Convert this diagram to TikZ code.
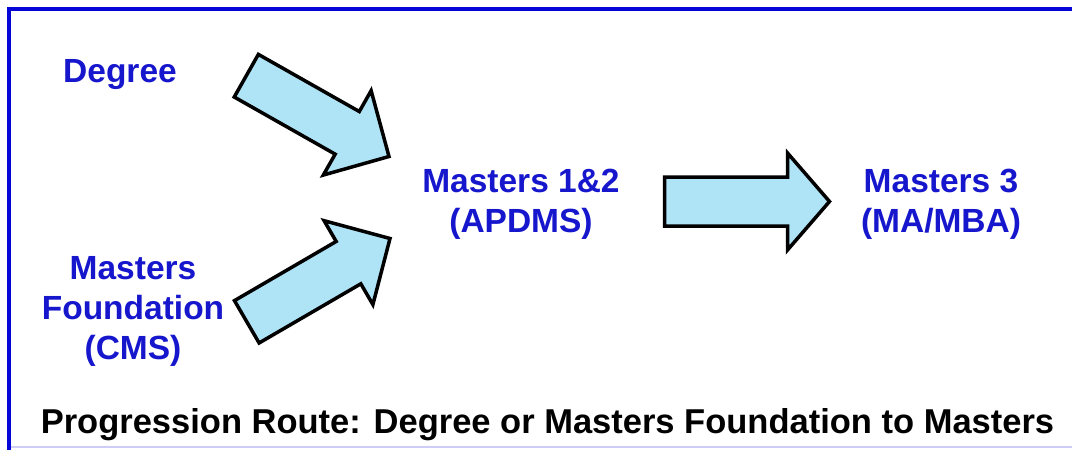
\documentclass[tikz,border=0pt]{standalone}
\usepackage{fontspec}
\setmainfont{Liberation Sans}
\usepackage{xcolor}
\usetikzlibrary{calc}

\definecolor{labelblue}{RGB}{22,22,205}
\definecolor{arrowfill}{RGB}{175,228,247}
\definecolor{framelav}{RGB}{205,205,245}
\definecolor{frameblue}{RGB}{5,5,215}

% block arrow: tail, tip, head length
\newcommand{\fatarrow}[3]{%
  \coordinate (hb) at ($(#2)!#3!(#1)$);
  \draw[fat] ($(#1)!24.5pt!90:(#2)$) -- ($(hb)!24.5pt!90:(#2)$)
    -- ($(hb)!48.5pt!90:(#2)$) -- (#2)
    -- ($(hb)!48.5pt!-90:(#2)$) -- ($(hb)!24.5pt!-90:(#2)$)
    -- ($(#1)!24.5pt!-90:(#2)$) -- cycle;
}

\begin{document}
\begin{tikzpicture}[
    x=1pt, y=-1pt,
    lbl/.style={text=labelblue,font=\fontsize{33.5}{40}\selectfont\bfseries,align=center,inner sep=0pt},
    fat/.style={draw=black,fill=arrowfill,line width=3.5pt,line join=miter}
  ]
  \useasboundingbox (0,0) rectangle (1072,450);

  % frame
  \draw[framelav,line width=2pt] (9,447) -- (1072,447);
  \draw[frameblue,line width=4.5pt] (1072,9) -- (9,9) -- (9,450);

  % labels
  \node[lbl,anchor=base] (deg) at (120,82) {Degree};
  \node[lbl] (mf)  at (133,311.5) {Masters\\Foundation\\(CMS)};
  \node[lbl] (m12) at (521,204) {Masters 1\&2\\(APDMS)};
  \node[lbl] (m3)  at (941,204) {Masters 3\\(MA/MBA)};
  \node[anchor=base,inner sep=0pt,font=\fontsize{34.5}{40}\selectfont\bfseries] (caption)
    at (547.5,433) {Progression Route: Degree or Masters Foundation to Masters};

  % arrow ends
  \coordinate (a1t) at (246.3,75.7);
  \coordinate (a1h) at (389,156.5);
  \coordinate (a2t) at (246.8,321.8);
  \coordinate (a2h) at (390,238.5);
  \coordinate (a3t) at (664.5,201.5);
  \coordinate (a3h) at (829.5,201.5);

  % arrows
  \fatarrow{a1t}{a1h}{48pt}
  \fatarrow{a2t}{a2h}{48pt}
  \fatarrow{a3t}{a3h}{42pt}
\end{tikzpicture}
\end{document}
